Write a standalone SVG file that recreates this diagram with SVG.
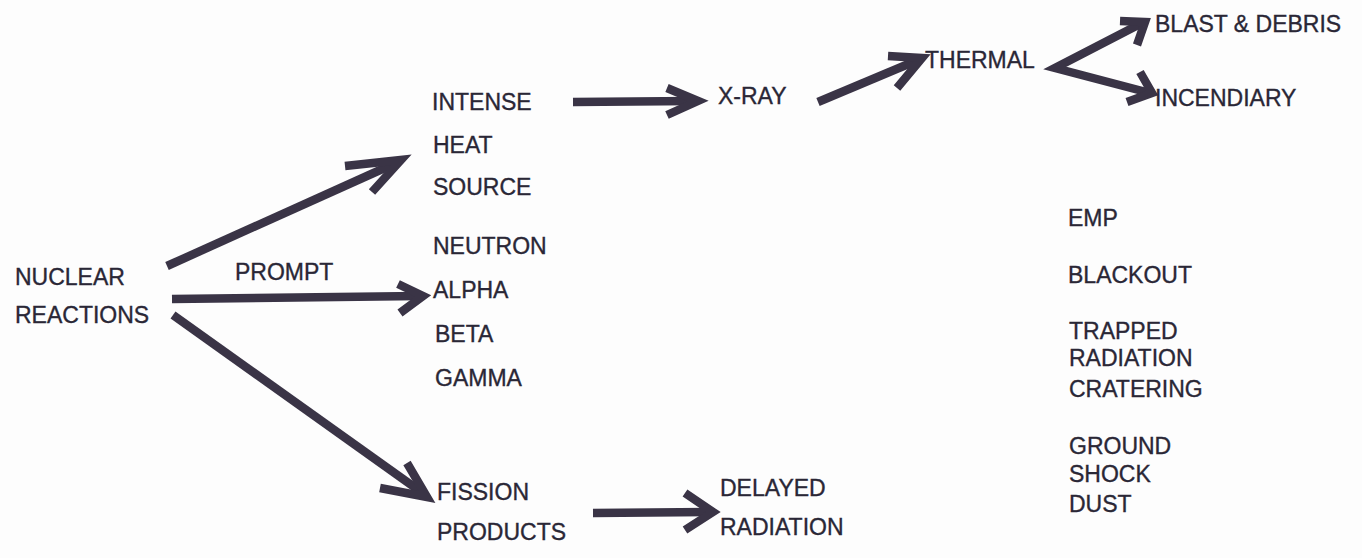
<svg xmlns="http://www.w3.org/2000/svg" width="1362" height="558" viewBox="0 0 1362 558">
<style>
text{font-family:"Liberation Sans",Arial,sans-serif;font-size:23px;fill:#2a2736;stroke:#2a2736;stroke-width:0.35}
.c path{fill:none;stroke:#3a3446;stroke-width:8.5;stroke-linecap:butt;stroke-linejoin:miter}
</style>
<rect width="1362" height="558" fill="#fdfdfd"/>
<g class="c" id="connectors">
<path d="M167,266 L398,162"/><path d="M345,166 L401,160 L372,192"/>
<path d="M172,299 L420,296"/><path d="M398,284 L423,296 L400,313"/>
<path d="M173,315 L424,494"/><path d="M407,463 L427,497 L380,488"/>
<path d="M573,102 L694,101"/><path d="M667,88 L698,101 L667,115"/>
<path d="M818,102 L918,60"/><path d="M888,56 L922,58 L897,88"/>
<path d="M1142,23 L1055,68 L1150,93"/>
<path d="M1120,21 L1145,22 L1137,45"/>
<path d="M1140,72 L1152,93 L1127,102"/>
<path d="M593,513 L709,512"/><path d="M685,493 L713,512 L685,530"/>
</g>
<g id="nuclear"><text x="15" y="285">NUCLEAR</text><text x="15" y="323">REACTIONS</text></g>
<g id="prompt"><text x="235" y="280">PROMPT</text></g>
<g id="heat"><text x="432" y="110">INTENSE</text><text x="433" y="153">HEAT</text><text x="433" y="195">SOURCE</text></g>
<g id="particles"><text x="433" y="254">NEUTRON</text><text x="433" y="298">ALPHA</text><text x="435" y="342">BETA</text><text x="435" y="386">GAMMA</text></g>
<g id="fission"><text x="437" y="500">FISSION</text><text x="437" y="540">PRODUCTS</text></g>
<g id="xray"><text x="718" y="104">X-RAY</text></g>
<g id="thermal"><text x="925" y="68">THERMAL</text></g>
<g id="blast"><text x="1155" y="32">BLAST &amp; DEBRIS</text></g>
<g id="incendiary"><text x="1155" y="106">INCENDIARY</text></g>
<g id="delayed"><text x="720" y="496">DELAYED</text><text x="720" y="535">RADIATION</text></g>
<g id="emp"><text x="1068" y="226">EMP</text></g>
<g id="blackout"><text x="1068" y="283">BLACKOUT</text></g>
<g id="trapped"><text x="1069" y="339">TRAPPED</text><text x="1069" y="366">RADIATION</text></g>
<g id="cratering"><text x="1069" y="397">CRATERING</text></g>
<g id="ground"><text x="1069" y="454">GROUND</text><text x="1069" y="482">SHOCK</text><text x="1069" y="512">DUST</text></g>
</svg>
